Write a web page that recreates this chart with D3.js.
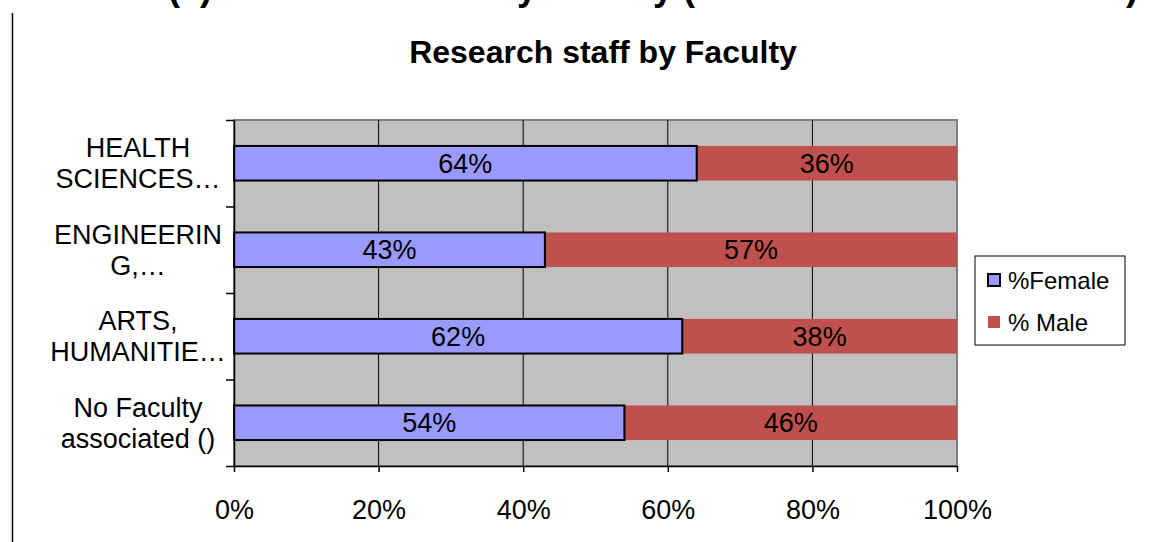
<!DOCTYPE html>
<meta charset="utf-8">
<style>
  body { margin: 0; background: #fff; }
  svg text { font-family: "Liberation Sans", Arial, sans-serif; fill: #000; }
  .axis .domain { stroke: #000; stroke-width: 1.5px; }
  .axis .tick line { stroke: #000; stroke-width: 1.5px; }
  .grid { stroke: #000; stroke-width: 1px; }
</style>
<body>
<script src="https://cdn.jsdelivr.net/npm/d3@7"></script>
<script>
// research staff by faculty, % female vs % male (100% stacked bars)
var categories = [
  ["HEALTH", "SCIENCES\u2026"],
  ["ENGINEERIN", "G,\u2026"],
  ["ARTS,", "HUMANITIE\u2026"],
  ["No Faculty", "associated ()"]
];
var female = [64, 43, 62, 54];
var male   = [36, 57, 38, 46];
var xTicks = [0, 20, 40, 60, 80, 100];
var seriesNames = ["%Female", "% Male"];
var colors = ["#9999FF", "#C0504D"];

var W = 1174, H = 542;
var plotL = 234, plotR = 957, plotT = 120, plotB = 466;

var svg = d3.select("body").append("svg")
    .attr("width", W)
    .attr("height", H);

// cut-off heading from the page above (only descenders show)
var head = svg.append("g").style("font-weight", "bold").style("font-size", "36px");
head.append("text").attr("x", 168).attr("y", 0).text("(a)");
head.append("text").attr("x", 537).attr("y", 0).attr("text-anchor", "end").text("by");
head.append("text").attr("x", 547).attr("y", 0).text("Faculty (");
head.append("text").attr("x", 1126).attr("y", 0).text(")");

// page border on the left
svg.append("line")
    .attr("x1", 12.5).attr("x2", 12.5)
    .attr("y1", 13).attr("y2", H)
    .style("stroke", "#000").style("stroke-width", "1.5px");

var x = d3.scaleLinear().domain([0, 100]).range([plotL, plotR]);
var idx = categories.map(function(d, i) { return i; });
var y = d3.scaleBand().domain(idx).range([plotT, plotB]).padding(0);
var yEdge = d3.scaleLinear().domain([0, categories.length]).range([plotT, plotB]);
var barH = y.bandwidth() * 0.4;

// title
svg.append("text")
    .attr("x", 603).attr("y", 63)
    .attr("text-anchor", "middle")
    .style("font-size", "32px")
    .style("font-weight", "bold")
    .text("Research staff by Faculty");

// plot area
svg.append("rect")
    .attr("x", plotL).attr("y", plotT)
    .attr("width", plotR - plotL).attr("height", plotB - plotT)
    .style("fill", "#C0C0C0")
    .style("stroke", "#808080")
    .style("stroke-width", "2px");

// vertical grid lines
svg.selectAll("line.grid")
  .data(xTicks.filter(function(d) { return d > 0 && d < 100; }))
  .enter().append("line")
    .attr("class", "grid")
    .attr("x1", function(d) { return x(d); })
    .attr("x2", function(d) { return x(d); })
    .attr("y1", plotT).attr("y2", plotB);

// male bars (behind), then female with black outline
svg.selectAll("rect.male")
  .data(male)
  .enter().append("rect")
    .attr("class", "male")
    .attr("x", function(d, i) { return x(female[i]); })
    .attr("width", function(d, i) { return x(female[i] + d) - x(female[i]); })
    .attr("y", function(d, i) { return y(i) + (y.bandwidth() - barH) / 2; })
    .attr("height", barH)
    .style("fill", colors[1]);

svg.selectAll("rect.female")
  .data(female)
  .enter().append("rect")
    .attr("class", "female")
    .attr("x", x(0))
    .attr("width", function(d) { return x(d) - x(0); })
    .attr("y", function(d, i) { return y(i) + (y.bandwidth() - barH) / 2; })
    .attr("height", barH)
    .style("fill", colors[0])
    .style("stroke", "#000")
    .style("stroke-width", "2px");

// value labels
var lab = svg.append("g").style("font-size", "27px").attr("text-anchor", "middle");
female.forEach(function(f, i) {
  var cy = y(i) + y.bandwidth() / 2;
  lab.append("text")
      .attr("x", (x(0) + x(f)) / 2).attr("y", cy).attr("dy", "0.36em")
      .text(f + "%");
  lab.append("text")
      .attr("x", (x(f) + x(f + male[i])) / 2).attr("y", cy).attr("dy", "0.36em")
      .text(male[i] + "%");
});

// x axis
svg.append("g")
    .attr("class", "axis")
    .attr("transform", "translate(0," + plotB + ")")
    .call(d3.axisBottom(x).tickValues(xTicks)
      .tickFormat(function(d) { return d + "%"; })
      .tickSize(6).tickSizeOuter(0).tickPadding(28))
    .selectAll("text")
      .style("font-size", "27px")
      .style("font-family", "Liberation Sans, Arial, sans-serif");

// y axis (ticks at category boundaries)
svg.append("g")
    .attr("class", "axis")
    .attr("transform", "translate(" + plotL + ",0)")
    .call(d3.axisLeft(yEdge).tickValues(d3.range(categories.length + 1))
      .tickFormat("").tickSize(8).tickSizeOuter(0));

// category labels, two centered lines each
var cat = svg.append("g").style("font-size", "27px").attr("text-anchor", "middle");
categories.forEach(function(lines, i) {
  var cy = y(i) + y.bandwidth() / 2;
  lines.forEach(function(t, j) {
    cat.append("text")
        .attr("x", 138)
        .attr("y", cy + (j - 0.5) * 31)
        .attr("dy", "0.36em")
        .text(t);
  });
});

// legend
var lg = svg.append("g").attr("transform", "translate(975,256)");
lg.append("rect")
    .attr("width", 150).attr("height", 89)
    .style("fill", "#fff").style("stroke", "#000").style("stroke-width", "1px");
seriesNames.forEach(function(name, i) {
  var row = lg.append("g").attr("transform", "translate(0," + (24 + i * 42) + ")");
  row.append("rect")
      .attr("x", 13).attr("y", -6).attr("width", 12).attr("height", 12)
      .style("fill", colors[i])
      .style("stroke", i === 0 ? "#000" : "none")
      .style("stroke-width", "2px");
  row.append("text")
      .attr("x", 33).attr("dy", "0.36em")
      .style("font-size", "24px")
      .text(name);
});
</script>
</body>
